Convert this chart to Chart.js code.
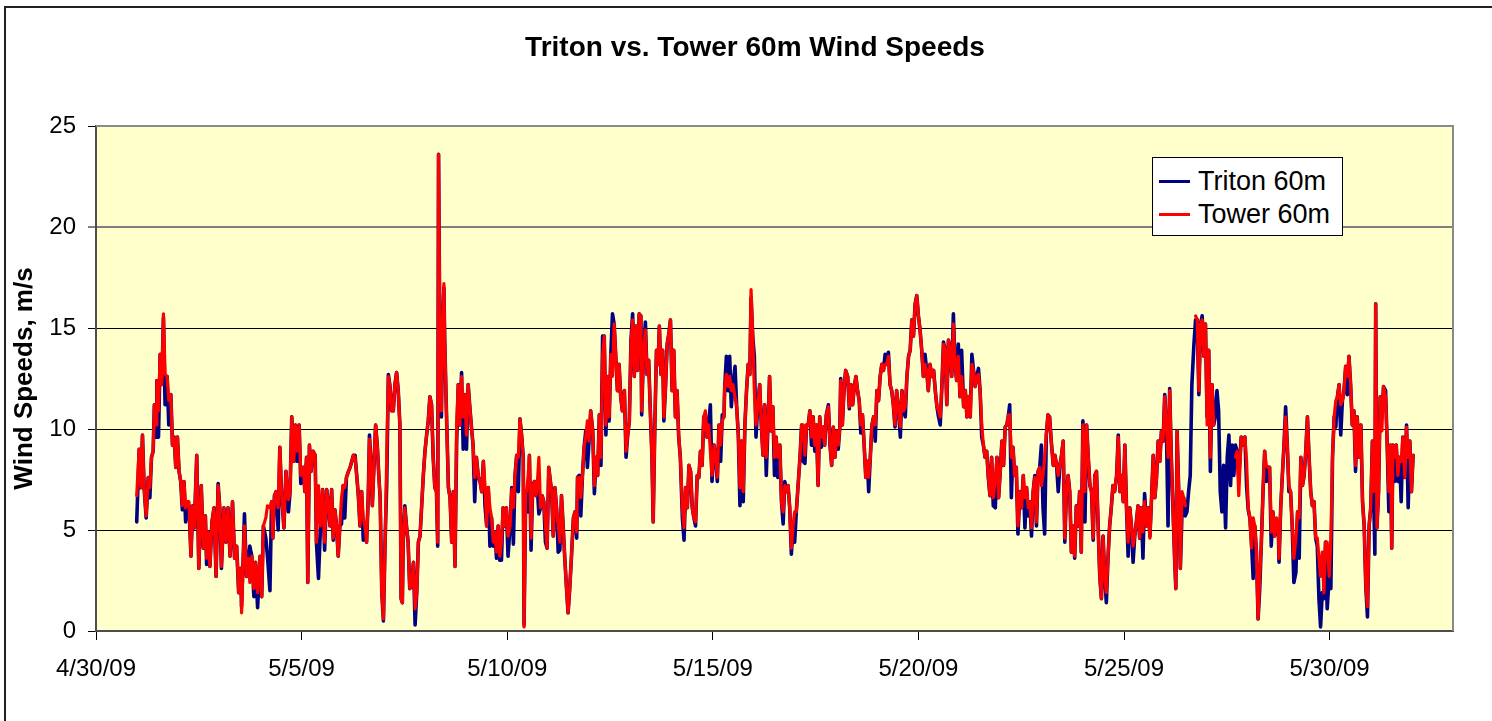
<!DOCTYPE html>
<html>
<head>
<meta charset="utf-8">
<script src="https://cdn.jsdelivr.net/npm/chart.js@4.4.0/dist/chart.umd.min.js"></script>
<style>
html,body{margin:0;padding:0;background:#fff;overflow:hidden;}
#wrap{position:relative;width:1492px;height:721px;overflow:hidden;}
#frame{position:absolute;left:4px;top:6px;width:1600px;height:800px;border:2px solid #222;box-sizing:border-box;pointer-events:none;}
#c{position:absolute;left:0;top:0;}
#legend{position:absolute;left:1152px;top:157px;width:191px;height:79px;background:#fff;border:1px solid #000;box-sizing:border-box;
  font-family:'Liberation Sans',Arial,sans-serif;font-size:27px;color:#000;z-index:2;}
#legend .row{position:absolute;left:0;height:32px;display:flex;align-items:center;white-space:nowrap;}
#legend .sw{display:inline-block;width:31px;height:3px;margin-left:6px;margin-right:8px;}
</style>
</head>
<body>
<div id="wrap">
  <canvas id="c" width="1492" height="721"></canvas>
  <div id="frame"></div>
  <div id="legend"></div>
</div>
<script>
// ---- DATA (x = days since 4/30/09 00:00) ----
const chartTitle = 'Triton vs. Tower 60m Wind Speeds';
const yAxisTitle = 'Wind Speeds, m/s';
const seriesNames = ['Triton 60m', 'Tower 60m'];
const xTickValues = [0, 5, 10, 15, 20, 25, 30];
const xTickLabels = ['4/30/09', '5/5/09', '5/10/09', '5/15/09', '5/20/09', '5/25/09', '5/30/09'];

// segment 1: May 1 - May 5
const t1 = [0.99,1.05,1.09,1.13,1.17,1.22,1.27,1.31,1.35,1.39, 1.42,1.46,1.48,1.52,1.56,1.60,1.64,1.68,1.73,1.77,
  1.82,1.86,1.90,1.94,1.98,2.02,2.06,2.10,2.14,2.18, 2.22,2.26,2.31,2.35,2.39,2.45,2.50,2.56,2.61,2.66,
  2.69,2.73,2.77,2.82,2.87,2.92,2.97,3.01,3.05,3.11, 3.16,3.21,3.26,3.32,3.37,3.42,3.47,3.52,3.54,3.58,
  3.61,3.66,3.71,3.74,3.79,3.84,3.88,3.93,3.99,4.03, 4.07,4.13,4.17,4.23,4.27,4.30,4.34,4.38,4.43,4.47,
  4.51,4.57,4.62,4.68,4.72,4.76,4.81,4.85,4.89,4.94, 4.98,5.04,5.08,5.12,5.15,5.19,5.23,5.28,5.33,5.36,
  5.41,5.46,5.51,5.56,5.61,5.66];
const tower1 = [6.7,9.0,7.1,9.7,7.1,5.7,7.6,7.1,8.6,8.9, 11.2,10.2,12.4,10.9,13.7,12.2,15.7,12.7,12.6,11.4,
  11.7,9.2,9.6,8.1,9.6,7.9,7.4,6.2,7.4,6.1, 6.4,6.4,3.7,6.2,5.1,8.7,3.1,7.2,4.1,5.7,
  3.6,4.9,3.2,5.4,6.1,2.7,7.2,6.1,3.2,6.1, 4.4,6.1,3.7,6.4,3.6,4.2,1.9,3.1,0.9,3.6,
  5.2,2.7,3.6,2.4,3.7,2.1,3.4,1.9,3.7,1.7, 5.2,5.6,6.2,6.1,6.4,4.6,6.7,6.9,6.1,9.1,
  6.9,5.1,7.9,6.5,6.9,10.6,8.4,10.2,8.9,10.2, 7.7,8.1,6.9,8.6,2.4,9.2,7.9,8.9,8.7,4.4,
  7.2,5.2,7.0,4.4,7.0,6.1];
const triton1 = [5.4,9.0,7.1,9.7,7.1,5.6,7.6,6.6,8.6,8.9, 11.2,9.6,12.4,9.6,13.7,12.2,15.5,11.2,12.6,10.2,
  11.7,9.2,9.6,8.1,9.6,7.9,7.4,6.0,7.4,5.4, 6.4,6.2,3.7,6.2,5.1,8.7,3.1,7.2,4.1,5.7,
  3.3,4.9,3.2,5.4,6.1,2.7,7.3,6.1,3.1,6.1, 4.4,6.1,3.7,6.4,3.6,4.2,1.9,3.1,1.2,3.6,
  5.8,2.7,3.6,4.2,3.7,1.7,3.4,1.15,3.7,1.7, 5.2,4.6,3.7,2.0,6.4,4.6,6.7,6.9,5.0,9.1,
  6.9,5.1,7.9,5.9,6.9,10.6,8.4,10.2,8.4,10.2, 7.3,8.1,6.9,8.6,2.4,9.2,7.9,8.9,8.7,4.4,
  2.6,5.2,7.0,4.0,7.0,6.1];

// segment 2: May 5 - May 11
const t2 = [5.69,5.73,5.77,5.81,5.85,5.89,5.93,5.97,6.01,6.05, 6.09,6.14,6.18,6.22,6.26,6.30,6.34,6.38,6.42,6.46,
  6.50,6.54,6.58,6.62, 6.65,6.68,6.72,6.76,6.80,6.84,6.88,6.91,
  6.95,6.99,7.03,7.07,7.11,7.15,7.19,7.23,7.27,7.31,7.35,7.39, 7.42,7.45,
  7.47,7.51,7.55,7.59,7.63,7.67,7.72,7.76,7.80,7.84, 7.88,7.92,7.96,8.00,8.04,8.08,8.12,8.16,8.20,8.24, 8.28,
  8.31,8.33,8.36,8.40,8.43,8.46,8.48,
  8.53,8.57,8.61,8.65,8.69,8.73,8.77,8.81,8.85,8.89, 8.93,8.97,9.01,9.05,9.09,9.13,9.17,9.21,9.25,9.30,
  9.34,9.38,9.42,9.46,9.50,9.54,9.58,9.62,9.66,9.70, 9.74,9.78,9.82,9.86,9.90,9.94,9.98,10.02,10.07,10.11,
  10.15,10.19,10.23,10.27,10.31,10.35,10.39,
  10.41,10.45,10.47,10.51,10.54,10.58,10.62,10.66,10.70,10.73,10.77,10.81,10.85,10.89,10.93,10.97,11.01];
const tower2 = [5.2,7.0,4.6,6.0,5.2,3.7,5.2,6.6,7.2,7.1, 7.6,7.9,8.1,8.4,8.7,8.6,7.7,6.7,5.2,6.9,
  5.6,5.2,4.4,6.6, 9.5,8.6,6.2,8.2,10.2,9.2,7.6,6.6,
  1.9,0.6,4.4,8.6,12.6,12.1,10.9,10.9,12.2,12.8,11.9,10.2, 1.6,1.4,
  4.4,6.1,5.2,4.4,2.1,2.2,3.4,1.1,1.9,4.4, 4.7,6.2,7.7,8.9,9.7,10.4,11.6,11.2,8.6,7.1, 6.9,
  4.4,23.6,14.9,10.9,15.2,17.2,14.4,
  10.2,7.1,6.6,4.4,6.9,3.2,10.2,12.2,10.2,12.6, 10.6,11.7,9.7,12.2,11.1,10.1,9.2,7.6,8.6,7.6,
  7.4,6.9,8.4,7.2,5.2,7.1,6.1,5.6,4.4,4.9, 3.9,5.2,3.7,4.4,6.1,5.2,6.1,4.7,5.2,7.0,
  6.1,7.7,8.7,8.6,10.5,9.7,8.6,
  0.2,6.9,6.9,7.7,8.7,4.6,7.2,7.4,6.7,7.2,8.6,6.1,6.7,6.4,5.2,4.1,8.1];
const triton2 = [5.2,7.0,4.5,6.0,5.2,3.7,5.2,5.3,7.2,5.6, 7.6,7.9,8.1,8.4,8.7,8.7,7.7,6.7,5.2,6.9,
  4.5,5.2,4.4,6.6, 9.7,8.6,6.2,8.2,10.2,9.2,7.6,6.6,
  1.9,0.5,4.4,7.3,12.7,12.1,10.9,10.9,12.2,12.8,11.9,10.2, 1.6,1.4,
  4.4,6.2,5.2,4.4,2.1,2.2,3.4,0.3,1.9,4.4, 4.7,6.2,7.7,8.9,9.7,10.4,11.6,11.2,8.6,7.1, 6.9,
  4.2,23.6,14.9,10.6,15.2,17.0,14.4,
  10.2,7.1,6.6,4.4,6.9,3.2,9.3,12.2,10.2,12.8, 9.0,11.7,9.0,12.2,11.1,10.1,9.2,6.4,8.6,7.6,
  7.4,6.9,8.4,6.2,5.2,7.1,4.2,5.6,4.2,4.9, 3.6,5.2,3.5,3.5,6.1,5.2,6.1,3.7,5.2,7.1,
  4.3,7.7,8.7,6.9,10.5,9.7,8.6,
  0.3,6.9,6.9,5.9,8.7,4.0,7.2,7.4,6.7,7.2,5.8,6.1,6.7,6.4,4.4,4.1,8.1];

// segment 3: May 11 - May 16
const t3 = [11.08,11.12,11.16,11.20,11.24,11.28,11.32,11.36,11.40,11.44, 11.48,11.52,11.56,11.61,11.65,11.69,
  11.71,11.75,11.79,11.83,11.87,11.91,11.95,11.99,12.03,12.08, 12.12,12.16,12.20,12.24,12.28,
  12.32,12.36,12.40,12.44,12.48,12.52,12.56,12.60,12.64,12.68, 12.72,12.76,12.80,12.85,12.89,12.93,12.97,13.01,13.05,13.09,
  13.13,13.17,13.21,13.25,
  13.27,13.31,13.36,13.40,13.44,13.48,13.52,
  13.55,13.59,13.63,13.67,
  13.70,13.74,13.78,
  13.81,13.85,13.89,13.93,13.97,14.01,14.05,14.09,14.13,14.17, 14.21,14.26,14.30,14.34,14.38,14.42,14.46,14.50,14.54,14.58,
  14.62,14.66,14.70,14.74,14.78,14.82,14.86,14.90,14.94,14.98, 15.03,15.07,15.11,15.15,15.19,15.23,15.27,
  15.29,15.33,15.37,15.41,15.45,15.49,15.54,15.58,15.62,15.66, 15.70,15.74,15.78,15.82,15.86,15.90,
  15.93,15.97,16.01,16.05,16.09,16.14,16.18,16.22,16.26,16.30, 16.34,16.38,16.42,16.46,16.50,16.54,16.58];
const tower3 = [6.9,4.7,7.1,6.1,5.2,4.4,6.7,5.2,3.6,2.2, 0.9,2.1,3.6,5.6,5.9,4.9,
  7.6,7.6,6.6,7.7,9.1,9.6,10.4,9.4,10.9,9.9, 7.2,8.6,7.7,10.7,8.6,
  13.6,14.6,10.2,12.6,10.6,13.7,12.6,15.2,13.6,11.9, 13.2,11.6,10.9,11.9,8.9,9.7,10.4,14.2,15.4,12.6,
  15.1,12.9,15.7,15.6,
  10.9,13.6,14.9,12.7,13.4,10.9,8.6,
  5.4,10.2,13.9,13.2,
  15.1,12.7,13.9,
  10.6,12.1,14.2,14.7,15.4,11.9,13.9,10.6,11.9,9.7, 8.6,6.1,5.1,7.1,6.1,8.2,7.9,6.1,5.6,5.4,
  7.7,7.6,8.9,8.2,10.6,10.9,9.6,10.2,8.9,7.7, 9.2,8.6,7.6,10.2,9.2,10.4,10.6,
  12.1,12.7,12.1,12.6,11.9,12.2,11.6,11.1,9.7,7.1, 9.4,6.9,10.2,11.9,13.2,12.7,
  16.9,14.6,11.9,10.2,11.1,12.2,10.2,8.7,11.2,8.6, 10.1,12.6,9.9,11.1,8.6,9.6,8.6];
const triton3 = [6.9,4.7,7.1,6.1,3.9,4.0,6.7,5.2,3.6,2.2, 0.9,2.1,3.6,5.6,5.9,4.6,
  7.6,7.7,5.7,7.7,9.1,9.9,8.1,9.4,10.9,9.9, 6.8,8.6,7.7,10.7,8.2,
  14.6,14.6,9.7,12.6,10.4,13.7,15.7,15.2,13.6,11.9, 13.2,11.6,10.9,11.9,8.6,9.7,10.4,14.4,15.7,12.6,
  15.1,12.9,15.7,15.6,
  10.7,13.6,15.3,12.7,13.4,10.9,8.6,
  5.4,10.2,13.9,13.2,
  15.1,12.7,13.9,
  10.4,12.1,14.2,14.7,15.4,11.9,13.9,10.6,11.9,9.6, 8.6,5.6,4.5,7.1,6.1,8.2,7.9,6.1,5.6,5.2,
  7.7,7.6,8.9,8.2,10.6,10.7,9.6,10.2,11.2,7.4, 9.2,8.6,7.4,10.2,8.4,10.7,10.6,
  12.1,13.6,11.9,13.6,11.1,12.2,13.1,11.1,9.7,6.2, 9.4,6.4,10.2,11.9,13.2,12.7,
  16.5,14.6,13.6,9.6,11.1,12.2,10.2,8.7,11.2,7.7, 10.1,12.6,9.9,11.1,7.7,9.6,7.6];

// segment 4: May 16 - May 22
const t4 = [16.63,16.67,16.71,16.75,16.79,16.83,16.87,16.91,16.95,16.99, 17.03,17.08,17.12,17.16,17.20,17.24,17.28,17.32,17.36,17.40,
  17.44,17.48,17.52,17.56,17.60,17.64,17.68,17.72,17.76,17.81, 17.85,17.89,17.93,17.97,18.01,18.05,18.09,
  18.11,18.15,18.19,18.23,18.28,18.32,18.36,18.40,18.44,18.48, 18.52,18.56,18.60,18.64,18.68,18.72,18.76,
  18.79,18.83,18.87,18.91,18.95,18.99,19.03,19.07,19.11,19.15, 19.19,19.23,19.27,19.31,19.35,19.39,19.43,19.47,19.51,19.56,
  19.60,19.64,19.68,19.72,19.76,19.80,19.84,19.88,19.92,19.96, 20.00,20.04,20.08,20.12,20.16,20.20,20.24,20.28,20.33,20.37,
  20.41,20.45,20.49,20.53,20.57,20.61,20.65,20.69,20.73,20.77, 20.81,20.85,20.89,20.93,20.97,21.01,21.05,21.10,21.14,21.18,
  21.22,21.26,21.30,21.34,21.38,21.42,21.46,21.50,21.54,21.58, 21.62,21.66,21.70,21.74,21.78,21.82,21.87,21.91,21.95,21.99,
  22.03,22.07,22.11,22.15,22.19];
const tower4 = [9.2,6.4,5.9,7.2,6.9,7.2,6.1,4.1,5.2,5.9, 5.9,7.4,8.6,10.2,10.2,8.7,10.2,10.2,10.9,9.6,
  10.6,9.2,10.2,7.2,10.6,9.6,10.1,9.2,10.7,11.1, 9.2,8.2,10.1,8.6,9.9,9.2,10.1,
  12.4,10.2,11.9,12.9,12.6,11.1,12.2,11.2,12.1,12.6, 11.9,11.4,10.2,10.7,9.2,7.6,8.4,
  7.6,8.6,10.2,10.6,10.2,11.9,11.4,12.6,13.2,12.9, 13.2,13.2,13.6,12.2,11.9,11.2,10.2,11.9,11.1,10.1,
  11.9,10.9,11.1,12.6,13.6,13.9,15.4,14.6,16.2,16.6, 15.6,14.9,13.9,12.6,13.2,12.9,11.9,13.2,12.6,12.9,
  11.9,11.1,10.9,10.6,12.1,14.2,13.9,11.2,14.4,13.9, 12.6,15.2,13.2,12.4,13.6,11.6,12.6,11.1,11.9,10.6,
  11.6,10.6,13.2,12.9,12.1,12.6,12.7,11.9,10.2,9.2, 8.6,8.9,7.6,6.7,8.6,6.6,7.6,8.6,6.6,7.9,
  9.4,8.2,10.1,10.2,10.7];
const triton4 = [9.2,6.4,5.3,7.4,6.9,7.2,6.1,3.8,5.2,4.4, 5.9,7.4,8.6,10.2,8.4,8.3,10.2,10.2,10.9,9.2,
  10.6,8.9,10.2,7.2,10.6,9.1,10.1,9.2,10.7,11.2, 9.2,8.2,10.1,8.6,9.9,9.0,10.1,
  12.5,10.2,11.9,12.9,12.6,11.0,12.2,11.2,12.1,12.6, 11.9,11.4,9.8,10.7,9.2,7.6,8.4,
  6.9,8.6,10.2,10.6,9.4,11.9,11.4,12.6,13.2,12.9, 13.7,13.2,13.8,12.2,11.9,11.2,10.1,11.9,11.1,9.6,
  11.9,10.9,10.6,12.6,13.6,13.9,15.4,14.6,16.2,16.6, 15.6,14.9,13.9,12.6,13.7,12.9,11.9,13.2,12.6,12.9,
  11.9,11.1,10.6,10.2,12.1,14.3,13.9,11.2,14.4,13.9, 12.6,15.7,13.2,12.4,14.2,11.6,13.9,11.1,11.9,10.6,
  11.6,10.6,13.7,12.9,12.1,12.6,13.0,11.9,9.6,9.2, 8.6,8.9,7.6,6.7,8.6,6.2,6.1,8.6,6.6,7.9,
  9.4,8.2,10.1,10.2,10.7];

// segment 5: May 22 - May 27 (Tower gaps = null)
const t5 = [22.22,22.26,22.30,22.34,22.38,22.42,22.47,22.51,22.55,22.59, 22.63,22.67,22.71,22.75,22.79,22.83,22.87,22.91,22.95,22.99,
  23.03,23.07,23.11,23.15,23.19,23.23,23.28,23.32,23.36,23.40, 23.44,23.48,23.52,23.56,23.60,23.64,23.68,23.72,23.76,23.80,
  23.84,23.88,23.92,23.96,24.00,24.05,24.09,24.13,24.17,24.21, 24.25,24.29,24.33,24.37,24.41,24.45,24.49,24.53,24.57,24.61,
  24.65,24.69,24.73,24.77,24.82,24.86,24.90,24.94,24.98,25.02, 25.06,25.10,25.14,25.18,25.22,25.26,25.30,25.34,25.38,25.42,
  25.46,25.50,25.55,25.59,25.63,25.67,25.71,25.75,25.79,25.83, 25.87,25.91,25.95,25.99,26.03,26.07,26.11,26.15,26.19,26.23,
  26.26,
  26.29,26.33,26.37,26.41,26.45,26.49,26.53,26.57,26.61,26.65, 26.70,26.74,26.78,26.82,26.86,26.90,26.94,26.98,27.02,27.06,
  27.10,27.14,27.18,27.22,27.26,27.30,27.34,27.38,27.42,27.47, 27.51,27.55,27.59,27.63,27.67,27.71,27.75,27.79];
const tower5 = [10.7,8.6,9.1,7.7,8.1,5.2,6.9,6.1,7.7,6.6, 7.1,6.1,6.4,5.1,6.9,7.6,5.4,7.9,8.1,7.2,
  7.7,8.6,9.7,10.7,10.6,9.4,8.2,8.7,8.2,7.7, 8.2,8.7,9.4,4.6,6.9,7.7,6.9,3.9,5.2,3.7,
  6.2,5.2,6.9,3.9,10.2,6.9,10.2,8.6,7.2,6.9, 4.6,7.7,7.9,5.2,2.7,1.6,4.7,2.7,1.9,3.6,
  5.2,6.1,7.2,6.9,7.7,9.6,6.9,7.7,6.4,9.2, 6.1,4.4,6.1,5.2,4.2,4.7,5.4,6.2,4.6,6.1,
  4.9,6.4,5.2,6.1,4.6,6.6,8.7,6.6,7.6,9.4, 8.4,9.9,9.4,11.6,10.2,8.6,11.9,8.6,6.1,3.6,
  2.1,
  9.9,6.9,3.1,6.9,6.6,6.2,null,null,null,null, null,15.6,15.4,11.9,15.2,15.4,13.6,15.2,10.2,13.9,
  8.6,12.2,10.2,null,null,null,null,null,null,null, null,null,null,null,null,8.6,8.9,6.7];
const triton5 = [11.2,6.6,9.1,7.7,8.1,4.8,6.9,6.1,7.7,5.1, 7.1,5.7,6.4,4.7,6.9,7.7,5.2,7.9,8.1,9.2,
  6.1,4.8,9.7,10.7,10.6,9.4,8.2,8.7,8.2,6.9, 8.2,8.7,9.4,4.4,6.9,7.7,6.9,3.9,5.2,3.6,
  6.2,5.2,6.9,3.9,10.4,5.4,10.2,8.6,7.2,6.9, 4.5,7.7,7.9,5.2,2.7,1.6,4.7,2.7,1.4,3.6,
  5.2,6.1,7.2,6.9,7.7,9.7,6.9,7.7,6.4,9.2, 6.1,3.7,6.1,5.2,3.4,4.7,5.4,6.2,4.6,6.1,
  3.6,6.8,5.2,6.1,4.7,6.6,8.7,6.6,7.6,9.4, 8.4,9.9,9.4,11.7,10.2,5.2,12.0,8.6,6.1,3.6,
  2.1,
  9.9,6.9,3.1,5.9,6.6,5.7,5.9,6.9,7.7,12.2, 14.2,15.4,15.4,11.7,15.2,15.6,13.6,15.2,10.6,13.9,
  7.9,12.2,10.2,10.6,11.9,10.9,6.9,5.9,8.2,5.1, 8.6,9.7,7.2,9.2,7.7,9.2,8.9,7.6];

// segment 6: May 27 - June 1
const t6 = [27.85,27.89,27.94,27.98,28.02,28.06,28.10,28.14,28.18,28.22, 28.26,28.30,28.34,28.38,28.42,28.46,28.50,28.54,28.58,28.62,
  28.66,28.71,28.75,
  28.77,
  28.81,28.85,28.89,28.93,28.97,29.01,29.05,29.09,29.13,29.18, 29.22,29.26,29.30,29.34,29.38,29.42,29.46,29.50,29.54,29.58,
  29.62,29.66,29.70,29.74,29.78,29.82,29.86,29.90,29.94,29.99, 30.03,30.07,30.11,30.15,30.19,30.23,30.27,30.31,30.35,30.39,
  30.43,30.47,30.51,30.55,30.59,30.63,30.67,30.72,30.76,30.80, 30.84,30.88,30.92,30.96,31.00,31.04,
  31.07,31.10,31.12,31.15,
  31.19,31.23,31.27,31.31,31.36,31.40,31.44,31.48,
  31.51,
  31.54,31.58,31.62,31.66,31.70,31.74,31.78,31.83,31.87,31.91,31.95,31.99,32.03];
const tower6 = [9.6,9.2,9.6,8.4,6.1,5.6,4.1,5.6,5.2,3.9, 0.6,2.7,4.4,6.9,8.9,8.2,8.1,8.1,4.9,5.9,
  4.7,5.6,5.2,
  3.6,
  6.1,7.7,9.2,10.6,9.2,7.2,6.9,5.2,3.6,4.6, 5.9,5.6,8.6,7.2,7.7,8.9,10.6,8.6,6.9,6.2,
  6.4,4.6,4.6,3.6,2.7,3.9,1.9,4.4,4.4,2.7, 4.6,8.6,10.6,11.4,11.6,12.2,11.2,11.4,11.9,13.1,
  12.6,13.6,12.2,10.2,10.9,8.2,10.6,8.6,10.2,6.4, 5.2,2.2,1.2,5.2,6.1,9.4,
  6.9,8.6,16.2,5.1,
  6.9,11.6,9.9,12.1,11.6,9.2,6.9,9.2,
  4.1,
  9.2,8.6,9.2,7.7,8.6,8.4,9.6,7.6,10.1,8.6,9.4,6.9,8.7];
const triton6 = [9.6,9.2,9.6,7.2,6.0,5.6,4.4,2.6,5.2,3.9, 0.6,2.1,4.4,6.9,8.9,7.4,8.1,8.1,4.2,5.9,
  4.7,5.1,5.2,
  3.4,
  6.1,7.7,9.2,11.1,9.2,6.9,6.9,5.2,2.4,2.9, 5.9,3.6,8.6,7.2,7.7,8.9,10.6,8.6,6.9,6.2,
  6.4,4.6,4.2,1.6,0.2,1.9,1.6,4.4,1.1,2.7, 2.1,8.6,10.6,10.1,11.6,12.2,9.7,11.4,11.9,13.1,
  11.7,13.6,12.2,10.2,10.9,7.9,10.6,8.6,10.2,6.4, 5.2,2.2,0.7,5.2,6.1,9.4,
  6.9,3.8,16.2,5.1,
  6.9,11.6,10.6,12.1,11.9,9.2,5.9,9.2,
  4.1,
  9.2,7.4,9.2,7.4,8.6,6.4,9.6,7.6,10.2,6.1,9.4,6.9,8.7];

// ---- build series ----
const segments = [[t1,triton1,tower1],[t2,triton2,tower2],[t3,triton3,tower3],[t4,triton4,tower4],[t5,triton5,tower5],[t6,triton6,tower6]];
const tritonPts = [], towerPts = [];
segments.forEach((s, k) => {
  const [t, a, b] = s;
  if (t.length !== a.length || t.length !== b.length) console.error('segment ' + (k+1) + ' length mismatch', t.length, a.length, b.length);
  const n = Math.min(t.length, a.length, b.length);
  for (let i = 0; i < n; i++) { tritonPts.push({x: t[i], y: a[i]}); towerPts.push({x: t[i], y: b[i]}); }
});

const FONT = "'Liberation Sans', Arial, Helvetica, sans-serif";
const colors = ['#000080', '#ff0000'];

const plotFrame = {
  id: 'plotFrame',
  beforeDraw(chart) {
    const {ctx, chartArea: a} = chart;
    ctx.save();
    ctx.fillStyle = '#ffffcc';
    ctx.fillRect(a.left, a.top, a.right - a.left, a.bottom - a.top);
    ctx.restore();
  },
  beforeDatasetsDraw(chart) {
    const {ctx, chartArea: a} = chart;
    ctx.save();
    ctx.strokeStyle = '#8a8a8a';
    ctx.lineWidth = 2;
    ctx.beginPath();
    ctx.moveTo(a.left, a.top);
    ctx.lineTo(a.right, a.top);
    ctx.lineTo(a.right, a.bottom);
    ctx.stroke();
    ctx.restore();
  }
};

new Chart(document.getElementById('c'), {
  type: 'line',
  data: {
    datasets: [
      {label: seriesNames[0], data: tritonPts, borderColor: colors[0], backgroundColor: colors[0], borderWidth: 3.6,
       pointRadius: 0, tension: 0, spanGaps: false, order: 2, borderJoinStyle: 'round', borderCapStyle: 'round'},
      {label: seriesNames[1], data: towerPts, borderColor: colors[1], backgroundColor: colors[1], borderWidth: 3.2,
       pointRadius: 0, tension: 0, spanGaps: false, order: 1, borderJoinStyle: 'round', borderCapStyle: 'round'}
    ]
  },
  options: {
    responsive: false, animation: false, devicePixelRatio: 1,
    layout: {padding: {left: 40, right: 22, top: 0, bottom: 30}},
    plugins: {
      legend: {display: false},
      tooltip: {enabled: false},
      title: {display: true, text: chartTitle, color: '#000',
              font: {family: FONT, size: 28, weight: 'bold'}, padding: {top: 31, bottom: 61.4}}
    },
    scales: {
      x: {
        type: 'linear', min: 0, max: 33,
        afterBuildTicks: s => { s.ticks = xTickValues.map(v => ({value: v})); },
        afterFit: s => { s.height = 60; },
        ticks: {autoSkip: false, maxRotation: 0, color: '#000', padding: 15,
                font: {family: FONT, size: 24},
                callback: v => xTickLabels[xTickValues.indexOf(v)]},
        grid: {display: true, drawOnChartArea: false, drawTicks: true, tickLength: 9, color: '#000', tickColor: '#000', tickWidth: 1},
        border: {display: true, color: '#4d4d4d', width: 2}
      },
      y: {
        min: 0, max: 25,
        afterFit: s => { s.width = 56; },
        ticks: {stepSize: 5, color: '#000', padding: 12, font: {family: FONT, size: 24}},
        grid: {
          drawTicks: true, tickLength: 8, tickColor: '#000', tickWidth: 1,
          color: c => (c.tick && (c.tick.value === 0 || c.tick.value === 25)) ? 'rgba(0,0,0,0)' : (c.tick && c.tick.value === 20 ? '#7f7f7f' : '#000'),
          lineWidth: c => (c.tick && c.tick.value === 20) ? 2 : 1
        },
        border: {display: true, color: '#4d4d4d', width: 2},
        title: {display: true, text: yAxisTitle, color: '#000',
                font: {family: FONT, size: 26, weight: 'bold'}, padding: {top: -30.6, bottom: 0}}
      },
      yPad: {
        position: 'right', min: 0, max: 25,
        afterFit: s => { s.width = 17; },
        ticks: {display: false},
        grid: {display: false, drawOnChartArea: false, drawTicks: false},
        border: {display: false}
      }
    }
  },
  plugins: [plotFrame]
});

// HTML legend built from the series names/colors
const lg = document.getElementById('legend');
[23, 56].forEach((cy, i) => {
  const row = document.createElement('div');
  row.className = 'row';
  row.style.top = (cy - 16) + 'px';
  const sw = document.createElement('span');
  sw.className = 'sw';
  sw.style.background = colors[i];
  const tx = document.createElement('span');
  tx.textContent = seriesNames[i];
  row.appendChild(sw); row.appendChild(tx);
  lg.appendChild(row);
});
</script>
</body>
</html>
